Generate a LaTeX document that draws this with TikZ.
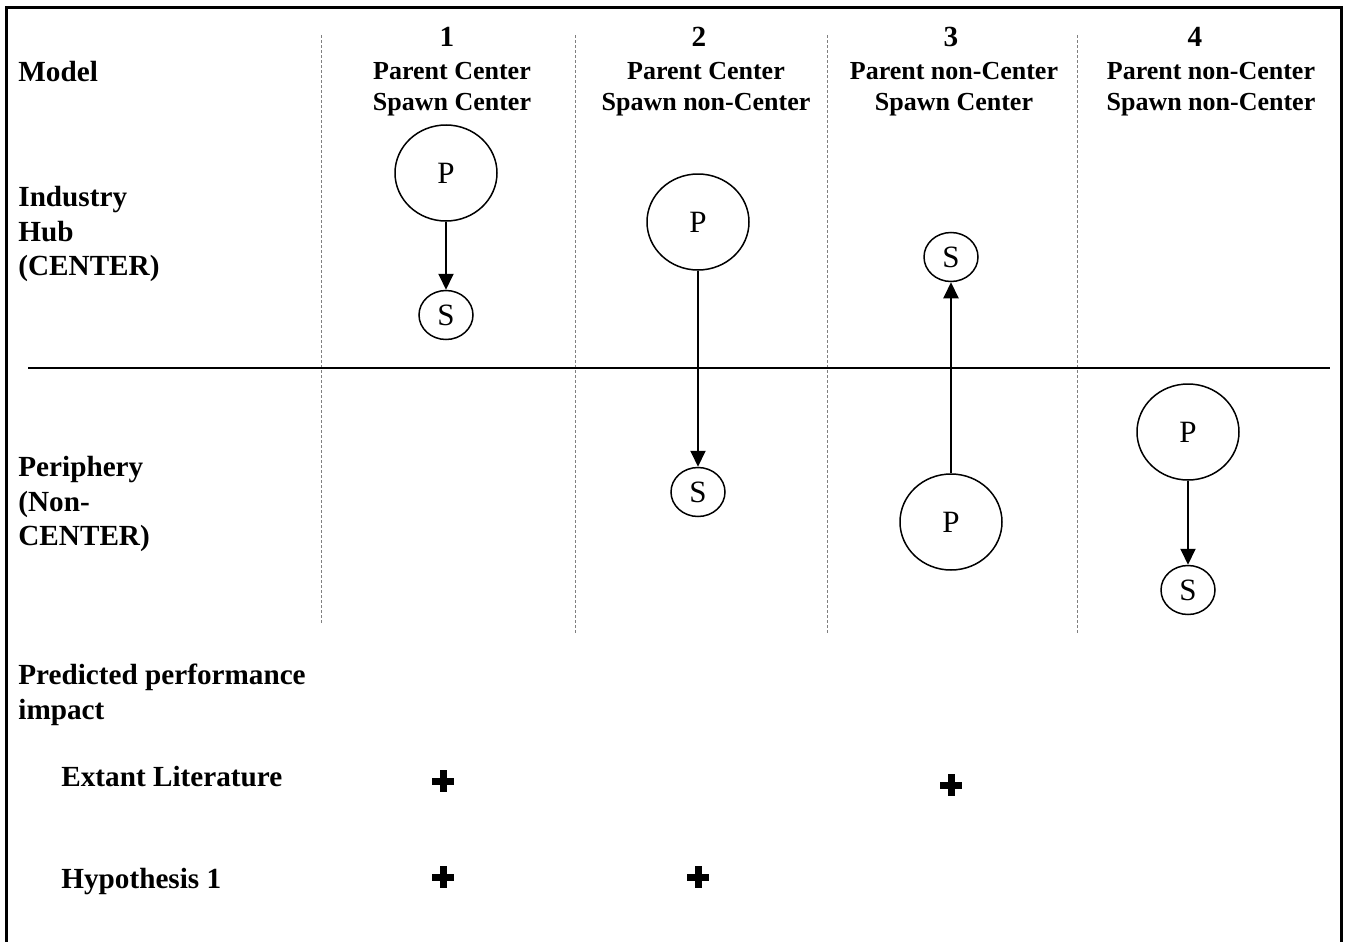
\documentclass[tikz,border=0pt]{standalone}
\usepackage{fontspec}
\setmainfont{Liberation Serif}
\usetikzlibrary{shapes.geometric,arrows.meta}
\begin{document}
\begin{tikzpicture}[x=0.5pt,y=-0.5pt,
  lbl/.style={font=\bfseries\fontsize{14.6}{17.25}\selectfont, align=left, anchor=north west, inner sep=0pt},
  hdr/.style={font=\bfseries\fontsize{13}{15.5}\selectfont, align=center, anchor=north, inner sep=0pt},
  num/.style={font=\bfseries\fontsize{14.6}{17}\selectfont, inner sep=0pt},
  pnode/.style={draw, ellipse, line width=0.75pt, minimum width=51pt, minimum height=48pt, inner sep=0pt, font=\fontsize{15.5}{18}\selectfont},
  snode/.style={draw, ellipse, line width=0.75pt, minimum width=27pt, minimum height=24.5pt, inner sep=0pt, font=\fontsize{15.5}{18}\selectfont},
  flow/.style={line width=1pt, -{Triangle[length=8pt,width=7.5pt]}},
  sep/.style={gray, line width=0.5pt, dash pattern=on 1.5pt off 1pt},
  plussign/.style={minimum size=11pt, inner sep=0pt, path picture={\draw[line width=3.5pt] (path picture bounding box.west) -- (path picture bounding box.east) (path picture bounding box.north) -- (path picture bounding box.south);}}
]
\useasboundingbox (0,0) rectangle (1346,942);
\fill[white] (0,0) rectangle (1346,942);
% frame
\draw[line width=1.5pt] (6.5,945) -- (6.5,7.5) -- (1341.5,7.5) -- (1341.5,945);
% column separators
\coordinate (s1t) at (321,35); \coordinate (s1b) at (321,625);
\coordinate (s2t) at (575,35); \coordinate (s2b) at (575,633);
\coordinate (s3t) at (827,35); \coordinate (s3b) at (827,633);
\coordinate (s4t) at (1077,35); \coordinate (s4b) at (1077,633);
\draw[sep] (s1t) -- (s1b);
\draw[sep] (s2t) -- (s2b);
\draw[sep] (s3t) -- (s3b);
\draw[sep] (s4t) -- (s4b);
% hub / periphery divider
\coordinate (hl) at (28,368); \coordinate (hr) at (1330,368);
\draw[line width=1pt] (hl) -- (hr);
% row labels
\node[lbl] (model) at (18,61) {Model};
\node[lbl] (hub) at (18,186) {Industry\\Hub\\(CENTER)};
\node[lbl] (peri) at (18,456) {Periphery\\(Non-\\CENTER)};
\node[lbl] (pred) at (18,664) {Predicted performance\\impact};
\node[lbl] (ext) at (61,766) {Extant Literature};
\node[lbl] (hyp) at (61,868) {Hypothesis 1};
% column headers
\node[num] (n1) at (447,37) {1};
\node[num] (n2) at (699,37) {2};
\node[num] (n3) at (951,37) {3};
\node[num] (n4) at (1195,37) {4};
\node[hdr] (h1) at (452,62) {Parent Center\\Spawn Center};
\node[hdr] (h2) at (706,62) {Parent Center\\Spawn non-Center};
\node[hdr] (h3) at (954,62) {Parent non-Center\\Spawn Center};
\node[hdr] (h4) at (1211,62) {Parent non-Center\\Spawn non-Center};
% model 1
\node[pnode] (p1) at (446,173) {P};
\node[snode] (c1) at (446,315) {S};
\draw[flow] (p1) -- (c1);
% model 2
\node[pnode] (p2) at (698,222) {P};
\node[snode] (c2) at (698,492) {S};
\draw[flow] (p2) -- (c2);
% model 3
\node[pnode] (p3) at (951,522) {P};
\node[snode] (c3) at (951,257) {S};
\draw[flow] (p3) -- (c3);
% model 4
\node[pnode] (p4) at (1188,432) {P};
\node[snode] (c4) at (1188,590) {S};
\draw[flow] (p4) -- (c4);
% predicted impact
\node[plussign] (e1) at (443,781) {};
\node[plussign] (e3) at (951,785) {};
\node[plussign] (y1) at (443,877) {};
\node[plussign] (y2) at (698,877) {};
\end{tikzpicture}
\end{document}
